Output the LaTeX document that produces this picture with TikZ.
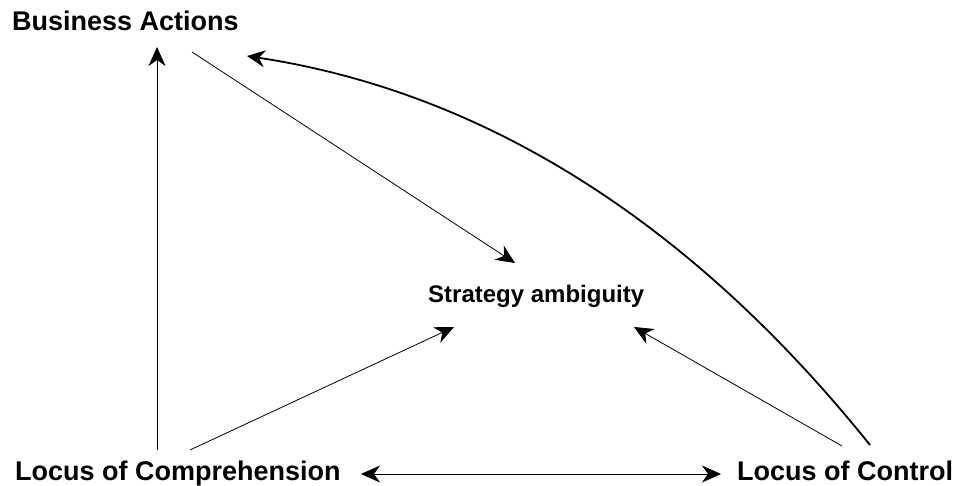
\documentclass[tikz,border=0pt]{standalone}
\usepackage{fontspec}
\setmainfont{Liberation Sans}
\usetikzlibrary{arrows.meta}
\tikzset{
  label/.style={font=\bfseries\fontsize{27}{32}\selectfont, inner sep=0pt, anchor=base west},
  midlabel/.style={font=\bfseries\fontsize{24}{29}\selectfont, inner sep=0pt, anchor=base west},
  link/.style={-{Stealth[length=19pt, width=17pt, inset=6pt]}, line width=0.8pt},
  bothlink/.style={{Stealth[length=19pt, width=17pt, inset=6pt]}-{Stealth[length=19pt, width=17pt, inset=6pt]}, line width=0.8pt},
  thick link/.style={-{Stealth[length=18pt, width=17pt, inset=6pt]}, line width=1.8pt}
}
\begin{document}
\begin{tikzpicture}[x=1pt, y=-1pt]
\useasboundingbox (0,0) rectangle (955,486);

% labels
\node[label] (ba) at (12,31) {Business Actions};
\node[midlabel] (sa) at (428,302) {Strategy ambiguity};
\node[label] (lcomp) at (15,480) {Locus of Comprehension};
\node[label] (lctrl) at (737,480) {Locus of Control};

% connector end points around the labels
\coordinate (ba-top) at (157,47);
\coordinate (ba-out) at (192,52);
\coordinate (ba-in) at (247,56);
\coordinate (sa-top) at (515,263);
\coordinate (sa-left) at (454,327);
\coordinate (sa-right) at (634,327);
\coordinate (lcomp-up) at (157,450);
\coordinate (lcomp-out) at (190,450);
\coordinate (lcomp-right) at (361,474);
\coordinate (lctrl-left) at (721,474);
\coordinate (lctrl-out) at (842,446);
\coordinate (lctrl-up) at (870,445);

% connectors
\draw[link] (lcomp-up) -- (ba-top);
\draw[link] (ba-out) -- (sa-top);
\draw[link] (lcomp-out) -- (sa-left);
\draw[link] (lctrl-out) -- (sa-right);
\draw[bothlink] (lcomp-right) -- (lctrl-left);
\draw[thick link] (lctrl-up) .. controls (691,222) and (484,92) .. (ba-in);
\end{tikzpicture}
\end{document}
